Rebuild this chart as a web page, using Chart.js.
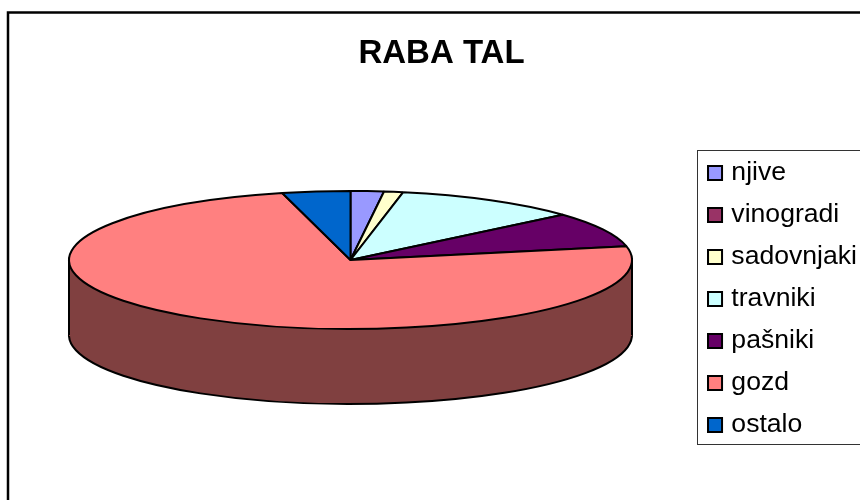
<!DOCTYPE html>
<html>
<head>
<meta charset="utf-8">
<style>
  html, body { margin: 0; padding: 0; background: #fff; overflow: hidden; }
  canvas { display: block; }
</style>
</head>
<body>
<canvas id="rabaChart" width="860" height="500"></canvas>
<script src="https://cdn.jsdelivr.net/npm/chart.js@4"></script>
<script>
const chartTitle = 'RABA TAL'
const categories = ['njive', 'vinogradi', 'sadovnjaki', 'travniki', 'pašniki', 'gozd', 'ostalo']
const shares = [1.9, 0, 1.1, 10.6, 8.2, 74.3, 3.9]
const sliceColors = ['#9999FF', '#993366', '#FFFFCC', '#CCFFFF', '#660066', '#FF8080', '#0066CC']
const rimColor = '#804040'

const pieCenterX = 350.5
const pieCenterY = 260
const pieRadius = 281.5
const pieSquash = 69 / 281.5
const pieDepth = 75

// move the pie to its place and squash the circle into an ellipse
function placePie(chart, offset) {
  const ctx = chart.ctx
  const arc = chart.getDatasetMeta(0).data[0]
  ctx.setTransform(1, 0, 0, 1, 0, 0)
  ctx.translate(pieCenterX, pieCenterY + offset)
  ctx.scale(1, pieSquash)
  ctx.translate(-arc.x, -arc.y)
}

// stroke with the plain transform so the outline stays even all round the ellipse
function useFlatStroke(ctx) {
  const plain = CanvasRenderingContext2D.prototype.stroke
  ctx.stroke = function () {
    const now = ctx.getTransform()
    ctx.setTransform(1, 0, 0, 1, 0, 0)
    plain.call(ctx)
    ctx.setTransform(now)
  }
}

function drawArcWith(arc, ctx, fill, line, width) {
  const copy = Object.create(arc)
  copy.options = { ...arc.options, backgroundColor: fill, borderColor: line, borderWidth: width }
  arc.draw.call(copy, ctx)
}

const pieRim = {
  id: 'pieRim',
  beforeDraw(chart) {
    const ctx = chart.ctx
    ctx.save()
    ctx.strokeStyle = '#000'
    ctx.lineWidth = 2.5
    ctx.strokeRect(8, 12.5, 900, 600)
    ctx.restore()
  },
  beforeDatasetsDraw(chart) {
    const ctx = chart.ctx
    const arcs = chart.getDatasetMeta(0).data
    ctx.save()
    useFlatStroke(ctx)
    // lower face, then the band joining it to the top face
    placePie(chart, pieDepth)
    arcs.forEach((arc) => drawArcWith(arc, ctx, rimColor, '#000', 2))
    ctx.setTransform(1, 0, 0, 1, 0, 0)
    ctx.fillStyle = rimColor
    ctx.fillRect(pieCenterX - pieRadius, pieCenterY, pieRadius * 2, pieDepth + 1)
    ctx.beginPath()
    ctx.moveTo(pieCenterX - pieRadius, pieCenterY)
    ctx.lineTo(pieCenterX - pieRadius, pieCenterY + pieDepth)
    ctx.moveTo(pieCenterX + pieRadius, pieCenterY)
    ctx.lineTo(pieCenterX + pieRadius, pieCenterY + pieDepth)
    ctx.lineWidth = 2
    ctx.strokeStyle = '#000'
    ctx.stroke()
    // the top face is then drawn by the library itself
    placePie(chart, 0)
  },
  afterDatasetsDraw(chart) {
    const ctx = chart.ctx
    delete ctx.stroke
    ctx.restore()
  },
  afterDraw(chart) {
    const ctx = chart.ctx
    const boxes = chart.legend.legendHitBoxes
    ctx.save()
    // the library ties the text gap to the box width, so the narrow boxes are widened here
    ctx.strokeStyle = '#000'
    ctx.lineWidth = 2
    boxes.forEach((box, i) => {
      const y = box.top + (box.height - 14) / 2
      ctx.fillStyle = sliceColors[i]
      ctx.fillRect(box.left, y, 14, 14)
      ctx.strokeRect(box.left, y, 14, 14)
    })
    // frame round the legend, running off the right edge like the original
    const last = boxes[boxes.length - 1]
    const left = boxes[0].left - 11
    const top = boxes[0].top - 10
    const bottom = last.top + last.height + 5
    ctx.strokeStyle = '#333'
    ctx.lineWidth = 1
    ctx.strokeRect(Math.round(left) + 0.5, Math.round(top) + 0.5, 300, Math.round(bottom - top))
    ctx.restore()
  }
}

new Chart(document.getElementById('rabaChart'), {
  type: 'pie',
  data: {
    labels: categories,
    datasets: [{
      data: shares,
      backgroundColor: sliceColors,
      borderColor: '#000',
      borderWidth: 2,
      clip: false
    }]
  },
  options: {
    responsive: false,
    animation: false,
    radius: pieRadius,
    layout: { padding: { left: 16, right: -7, bottom: -98 } },
    plugins: {
      title: {
        display: true,
        text: chartTitle,
        color: '#000',
        font: { family: '"Liberation Sans"', size: 33, weight: 'bold' },
        padding: { top: 34, bottom: 20 }
      },
      legend: {
        position: 'right',
        labels: {
          color: '#000',
          font: { family: '"Liberation Sans"', size: 26.6 },
          boxWidth: 10,
          boxHeight: 14,
          padding: 15.4
        }
      },
      tooltip: { enabled: false }
    }
  },
  plugins: [pieRim]
})
</script>
</body>
</html>
